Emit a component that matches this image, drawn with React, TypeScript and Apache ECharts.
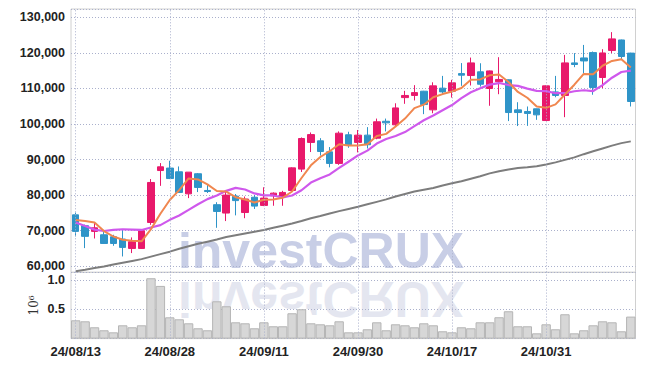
import React, { useEffect, useRef } from 'react';
import * as echarts from 'echarts';

const dates = [
  '24/08/13','24/08/14','24/08/16','24/08/19','24/08/20','24/08/21','24/08/22','24/08/23','24/08/26','24/08/27',
  '24/08/28','24/08/29','24/08/30','24/09/02','24/09/03','24/09/04','24/09/05','24/09/06','24/09/09','24/09/10',
  '24/09/11','24/09/12','24/09/13','24/09/19','24/09/20','24/09/23','24/09/24','24/09/25','24/09/26','24/09/27',
  '24/09/30','24/10/02','24/10/04','24/10/07','24/10/08','24/10/10','24/10/11','24/10/14','24/10/15','24/10/16',
  '24/10/17','24/10/18','24/10/21','24/10/22','24/10/23','24/10/24','24/10/25','24/10/28','24/10/29','24/10/30',
  '24/10/31','24/11/01','24/11/04','24/11/05','24/11/06','24/11/07','24/11/08','24/11/11','24/11/12','24/11/13',
];

// dates that carry a tick label and a vertical grid line
const tickDates = ['24/08/13', '24/08/28', '24/09/11', '24/09/30', '24/10/17', '24/10/31'];

const opens = [
  74450, 71400, 69800, 68850, 68300, 67650, 65000, 65000, 72300, 86900,
  87600, 86550, 80350, 86000, 81300, 77300, 74950, 79700, 75100, 79400,
  77100, 79800, 79450, 81300, 87300, 94800, 95250, 92150, 88900, 96950,
  94800, 96850, 96000, 100750, 99750, 107400, 108000, 109200, 103950, 110050,
  109200, 114150, 113600, 114650, 109950, 111850, 112400, 103950, 103500, 104250,
  100950, 109000, 108000, 117150, 118550, 120050, 113050, 120650, 123600, 119900,
];
const closes = [
  69800, 68400, 70800, 66400, 66400, 65300, 66900, 70000, 83550, 87950,
  84650, 80750, 86450, 82150, 81000, 75400, 80000, 78450, 78900, 76900,
  79150, 80550, 80750, 87650, 95900, 97000, 92250, 88900, 97400, 94150,
  96850, 94150, 100600, 100300, 104500, 108000, 108800, 105450, 110700, 109000,
  111550, 113700, 117150, 111150, 114900, 112500, 103200, 103200, 102950, 102550,
  110700, 108000, 117150, 116700, 117700, 110250, 119950, 123900, 118950, 106300,
];
const lows = [
  68400, 65100, 67800, 66300, 65750, 62750, 63700, 64900, 71650, 82600,
  84500, 80750, 79150, 80850, 80600, 70800, 72700, 74300, 73500, 76100,
  76900, 77000, 77000, 81000, 86500, 92100, 91100, 87800, 88500, 93300,
  92000, 93100, 95700, 97900, 99300, 105650, 106600, 102750, 103000, 108450,
  107400, 110700, 110800, 110500, 105100, 108350, 100800, 99400, 99450, 101150,
  100900, 107500, 101900, 115950, 114250, 108200, 110050, 119900, 118000, 104900,
];
const highs = [
  75100, 71700, 72300, 69600, 68850, 70450, 68100, 70450, 84500, 89000,
  89650, 88050, 86450, 86200, 83000, 78000, 81200, 80300, 79600, 80000,
  82200, 80750, 81200, 87800, 96200, 97600, 96000, 93500, 97900, 97800,
  98300, 99100, 101500, 101500, 105800, 109300, 110900, 109300, 111700, 113500,
  112400, 117100, 118650, 117050, 115000, 118750, 112500, 106100, 104900, 104300,
  110800, 113500, 119400, 119900, 122200, 120350, 121000, 125800, 123700, 120000,
];

// volume, in units of 10^6 shares
const volumes = [
  0.312, 0.295, 0.193, 0.142, 0.107, 0.227, 0.193, 0.227, 1.029, 0.898,
  0.363, 0.329, 0.261, 0.176, 0.142, 0.636, 0.551, 0.278, 0.261, 0.176,
  0.278, 0.21, 0.21, 0.432, 0.5, 0.261, 0.244, 0.227, 0.295, 0.107,
  0.107, 0.159, 0.278, 0.142, 0.244, 0.227, 0.193, 0.261, 0.227, 0.125,
  0.107, 0.193, 0.176, 0.278, 0.278, 0.364, 0.466, 0.21, 0.21, 0.09,
  0.244, 0.159, 0.415, 0.09, 0.142, 0.227, 0.295, 0.278, 0.125, 0.375,
];

const ma5 = [
  73000, 72700, 72300, 69900, 68360, 67460, 67160, 67000, 70430, 74740,
  78610, 81380, 84670, 84390, 83000, 81150, 81000, 79400, 78750, 77930,
  78680, 78790, 79250, 81000, 84800, 88370, 90710, 92340, 94290, 93940,
  93910, 94290, 96630, 97210, 99280, 101510, 104440, 105410, 107490, 108390,
  109100, 110080, 112420, 112510, 113690, 113880, 111780, 108990, 107350, 104880,
  104520, 105480, 108270, 111020, 114050, 113960, 116350, 117700, 118150, 115870,
];
const ma10 = [
  72300, 71300, 70300, 69900, 70200, 70400, 70300, 70200, 70900, 71550,
  73035, 74270, 75835, 77410, 78870, 79880, 81190, 82035, 81570, 80465,
  79915, 79895, 79325, 79875, 81365, 83525, 84750, 85795, 87645, 89370,
  91140, 92500, 94485, 95750, 96610, 97710, 99365, 101020, 102350, 103835,
  105305, 107260, 108915, 110000, 111040, 111490, 110930, 110705, 109930, 109285,
  109200, 108630, 108630, 109185, 109465, 109240, 110915, 112985, 114585, 114960,
];
const ma60 = [
  58600, 59000, 59500, 59950, 60500, 61000, 61500, 62000, 62700, 63400,
  64100, 64900, 65600, 66300, 66900, 67500, 68200, 68700, 69200, 69700,
  70200, 70800, 71400, 72000, 72700, 73500, 74100, 74800, 75500, 76100,
  76700, 77400, 78100, 78800, 79600, 80300, 81000, 81500, 82000, 82700,
  83300, 83900, 84600, 85300, 86100, 86700, 87200, 87600, 87800, 88100,
  88600, 89200, 89900, 90600, 91500, 92300, 93100, 93900, 94600, 95100,
];

const FONT = "'Liberation Sans', Arial, sans-serif";
const UP = '#e8196b';
const DOWN = '#2f94c8';
const GRID_DOT = '#aab0cc';
const BORDER = '#d0d0d0';

export default function App() {
  const ref = useRef<HTMLDivElement>(null);
  useEffect(() => {
    document.body.style.margin = '0';
    if (!ref.current) return;
    const chart = echarts.init(ref.current, undefined, { renderer: 'svg' });
    const yLabelStyle = { fontFamily: FONT, fontSize: 12.5, color: '#222', fontWeight: 'bold' };
    const xLabelStyle = { fontFamily: FONT, fontSize: 13, color: '#222', fontWeight: 'bold' };
    const vLines = {
      silent: true,
      symbol: ['none', 'none'],
      label: { show: false },
      emphasis: { disabled: true },
      lineStyle: { color: GRID_DOT, type: [1, 2], width: 1 },
      data: tickDates.map((d) => ({ xAxis: d })),
    };
    const wmFont = 'bold 50px "Liberation Sans", Arial, sans-serif';
    const option: any = {
      animation: false,
      backgroundColor: '#ffffff',
      textStyle: { fontFamily: FONT },
      graphic: [
        {
          type: 'text',
          x: 321,
          y: 251,
          z: -10,
          silent: true,
          style: {
            text: 'investCRUX',
            font: wmFont,
            fill: '#c8cee6',
            align: 'center',
            verticalAlign: 'middle',
            textAlign: 'center',
            textVerticalAlign: 'middle',
          },
        },
        {
          type: 'text',
          x: 321,
          y: 299,
          scaleY: -1,
          z: -10,
          silent: true,
          style: {
            text: 'investCRUX',
            font: wmFont,
            fill: '#e4e6f0',
            align: 'center',
            verticalAlign: 'middle',
            textAlign: 'center',
            textVerticalAlign: 'middle',
          },
        },
      ],
      grid: [
        { left: 71, top: 9, width: 564.5, height: 263.3, show: true, borderColor: BORDER, borderWidth: 1, backgroundColor: 'transparent' },
        { left: 71, top: 272.3, width: 564.5, height: 66.3, show: true, borderColor: BORDER, borderWidth: 1, backgroundColor: 'transparent' },
      ],
      xAxis: [
        {
          type: 'category',
          gridIndex: 0,
          data: dates,
          boundaryGap: true,
          axisLine: { show: false },
          axisTick: { show: false },
          axisLabel: { show: false },
          splitLine: { show: false },
        },
        {
          type: 'category',
          gridIndex: 1,
          data: dates,
          boundaryGap: true,
          axisLine: { show: false },
          axisTick: { show: false },
          axisLabel: { show: true, interval: 9, margin: 6, ...xLabelStyle },
          splitLine: { show: false },
        },
      ],
      yAxis: [
        {
          type: 'value',
          gridIndex: 0,
          min: 58300,
          max: 132300,
          splitNumber: 7,
          axisLine: { show: false },
          axisTick: { show: false },
          axisLabel: {
            margin: 6,
            ...yLabelStyle,
            formatter: (v: number) => (v % 10000 === 0 ? v.toLocaleString('en-US') : ''),
          },
          splitLine: { show: true, lineStyle: { color: GRID_DOT, type: [1, 2], width: 1 } },
        },
        {
          type: 'value',
          gridIndex: 1,
          min: 0,
          max: 1.13,
          interval: 0.5,
          name: '10\u2076',
          nameLocation: 'middle',
          nameRotate: 90,
          nameGap: 31,
          nameMoveOverlap: false,
          nameTextStyle: { fontFamily: "'DejaVu Serif', serif", fontSize: 12, color: '#333' },
          axisLine: { show: false },
          axisTick: { show: false },
          axisLabel: {
            margin: 6,
            ...yLabelStyle,
            formatter: (v: number) => (v > 0 && Math.abs(v * 2 - Math.round(v * 2)) < 1e-9 ? v.toFixed(1) : ''),
          },
          splitLine: { show: true, lineStyle: { color: GRID_DOT, type: [1, 2], width: 1 } },
        },
      ],
      series: [
        {
          name: 'Volume',
          type: 'bar',
          xAxisIndex: 1,
          yAxisIndex: 1,
          data: volumes,
          barCategoryGap: '0%',
          itemStyle: { color: '#d7d7d7', borderColor: '#b5b5b5', borderWidth: 1 },
          markLine: vLines,
        },
        {
          name: 'MA60',
          type: 'line',
          xAxisIndex: 0,
          yAxisIndex: 0,
          z: 1,
          data: ma60,
          symbol: 'none',
          lineStyle: { color: '#7d7d7d', width: 2 },
          markLine: vLines,
        },
        {
          name: 'Price',
          type: 'candlestick',
          xAxisIndex: 0,
          yAxisIndex: 0,
          barWidth: 7,
          data: dates.map((_, i) => [opens[i], closes[i], lows[i], highs[i]]),
          itemStyle: {
            color: UP,
            color0: DOWN,
            borderColor: UP,
            borderColor0: DOWN,
            borderWidth: 1,
          },
        },
        {
          name: 'MA10',
          type: 'line',
          xAxisIndex: 0,
          yAxisIndex: 0,
          z: 3,
          data: ma10,
          symbol: 'none',
          lineStyle: { color: '#cf58ec', width: 2.2 },
        },
        {
          name: 'MA5',
          type: 'line',
          xAxisIndex: 0,
          yAxisIndex: 0,
          z: 3,
          data: ma5,
          symbol: 'none',
          lineStyle: { color: '#f0874f', width: 2 },
        },
      ],
    };
    chart.setOption(option);
    return () => chart.dispose();
  }, []);
  return <div ref={ref} style={{ width: 645, height: 366 }} />;
}
